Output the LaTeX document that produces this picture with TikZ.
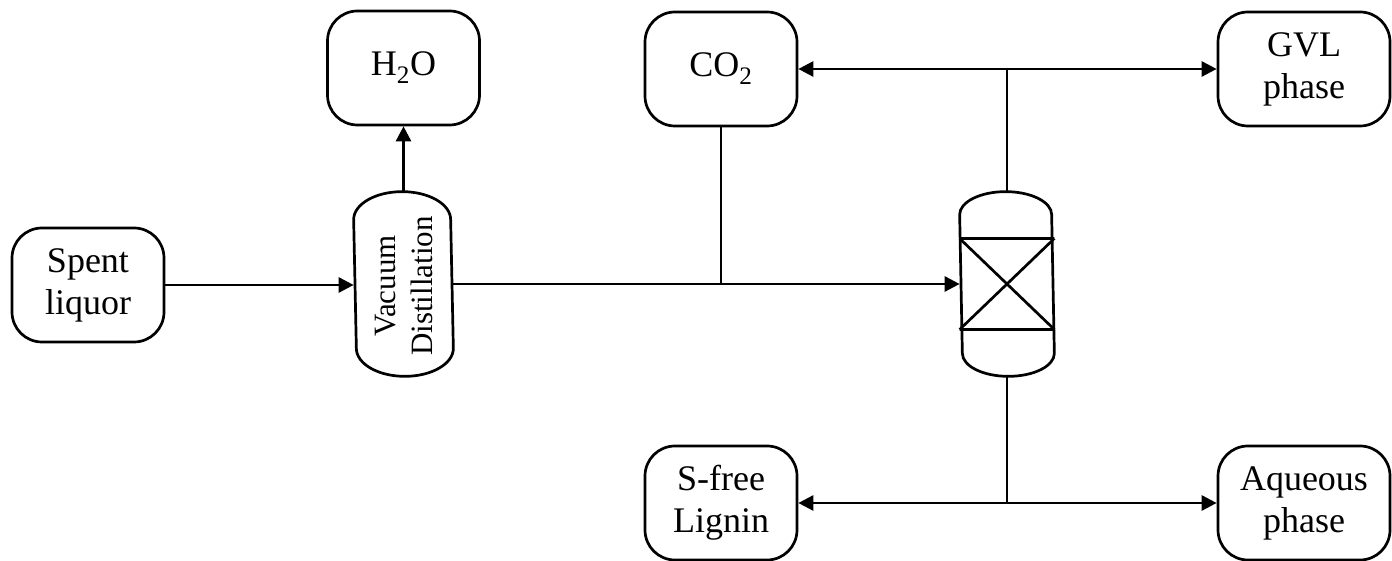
\documentclass[tikz,border=0pt]{standalone}
\usepackage{fontspec}
\setmainfont{Liberation Serif}
\usetikzlibrary{arrows.meta}
\begin{document}
\begin{tikzpicture}[x=1pt,y=1pt,
  line width=2.7pt,
  box/.style={draw, rounded corners=30pt, minimum width=152pt, minimum height=114pt,
              align=center, font=\fontsize{36}{42}\selectfont, inner sep=0pt},
  widebox/.style={box, minimum width=172pt},
  vessel/.style={minimum width=#1, minimum height=182pt, inner sep=0pt},
  flow/.style={-{Triangle[length=15pt,width=15pt]}},
]
\useasboundingbox (0,0) rectangle (1392,561);

% product and feed boxes
\node[box] (spent) at (88,276) {Spent\\liquor};
\node[box] (h2o) at (403.5,493) {H\textsubscript{2}O};
\node[box] (co2) at (721,492) {CO\textsubscript{2}};
\node[widebox] (gvl) at (1304,492) {GVL\\phase};
\node[box] (lignin) at (721,58) {S-free\\Lignin};
\node[widebox] (aq) at (1304,58) {Aqueous\\phase};

% vacuum distillation column
\node[vessel=97pt] (vd) at (403.5,277) {};
\draw ([yshift=-28pt]vd.north west) arc[start angle=180,end angle=0,x radius=48.5pt,y radius=28pt]
  -- ([yshift=28pt]vd.south east) arc[start angle=0,end angle=-180,x radius=48.5pt,y radius=28pt]
  -- cycle;
\node[rotate=90, align=center, font=\fontsize{31}{37}\selectfont] at ([yshift=-2pt]vd.center) {Vacuum\\Distillation};

% packed reactor vessel
\node[vessel=92pt] (r) at (1007,277) {};
\draw ([yshift=-23pt]r.north west) arc[start angle=180,end angle=0,x radius=46pt,y radius=23pt]
  -- ([yshift=23pt]r.south east) arc[start angle=0,end angle=-180,x radius=46pt,y radius=23pt]
  -- cycle;
\coordinate (rtl) at ([yshift=45.5pt]r.west);
\coordinate (rtr) at ([yshift=45.5pt]r.east);
\coordinate (rbl) at ([yshift=-45.5pt]r.west);
\coordinate (rbr) at ([yshift=-45.5pt]r.east);
\draw (rtl) -- (rtr) (rbl) -- (rbr) (rtl) -- (rbr) (rbl) -- (rtr);

% streams
\draw[flow] (spent.east) -- (spent.east -| vd.west);
\draw[flow] (vd.north) -- (h2o.south);
\draw[flow] (vd.east) -- (r.west);
\draw (co2.south) -- (co2.south |- r.west);

\coordinate (top) at (r.north |- co2.east);
\draw (r.north) -- (top);
\draw[flow] (top) -- (co2.east);
\draw[flow] (top) -- (gvl.west);

\coordinate (bot) at (r.south |- lignin.east);
\draw (r.south) -- (bot);
\draw[flow] (bot) -- (lignin.east);
\draw[flow] (bot) -- (aq.west);
\end{tikzpicture}
\end{document}
